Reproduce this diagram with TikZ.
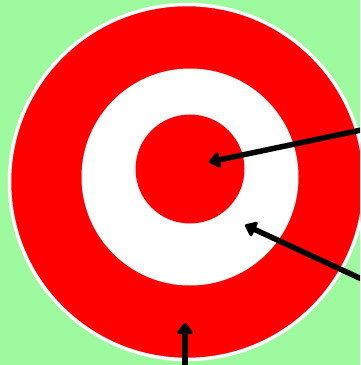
\documentclass[tikz,border=0pt]{standalone}
\usepackage{xcolor}
\usepackage{tikz}
\usetikzlibrary{arrows.meta}

\definecolor{bggreen}{RGB}{158,250,158}

\begin{document}
\begin{tikzpicture}[x=1pt,y=-1pt,>={Triangle[length=12pt,width=18pt,round]},
    ring/.style={circle, inner sep=0pt, outer sep=0pt, fill=red},
    pointer/.style={->, line width=5.5pt, black}]
    % Cadre et fond
    \useasboundingbox (0,0) rectangle (360,365);
    \clip (0,0) rectangle (360,365);
    \fill[bggreen] (0,0) rectangle (360,365);

    % Cible
    \node (outer)  [ring, draw=white, line width=3.5pt, minimum size=355pt] at (187,182) {};
    \node (middle) [ring, fill=white, minimum size=217pt] at (190,177) {};
    \node (inner)  [ring, minimum size=109pt] at (190,169) {};

    % Points des fleches
    \coordinate (tailA) at (366,129);
    \coordinate (tipA)  at (209,162);
    \coordinate (tailB) at (366,281);
    \coordinate (tipB)  at (245,225);
    \coordinate (tailC) at (185,370);
    \coordinate (tipC)  at (185,323);

    % Fleches
    \draw[pointer] (tailA) -- (tipA);
    \draw[pointer] (tailB) -- (tipB);
    \draw[pointer] (tailC) -- (tipC);
\end{tikzpicture}
\end{document}
